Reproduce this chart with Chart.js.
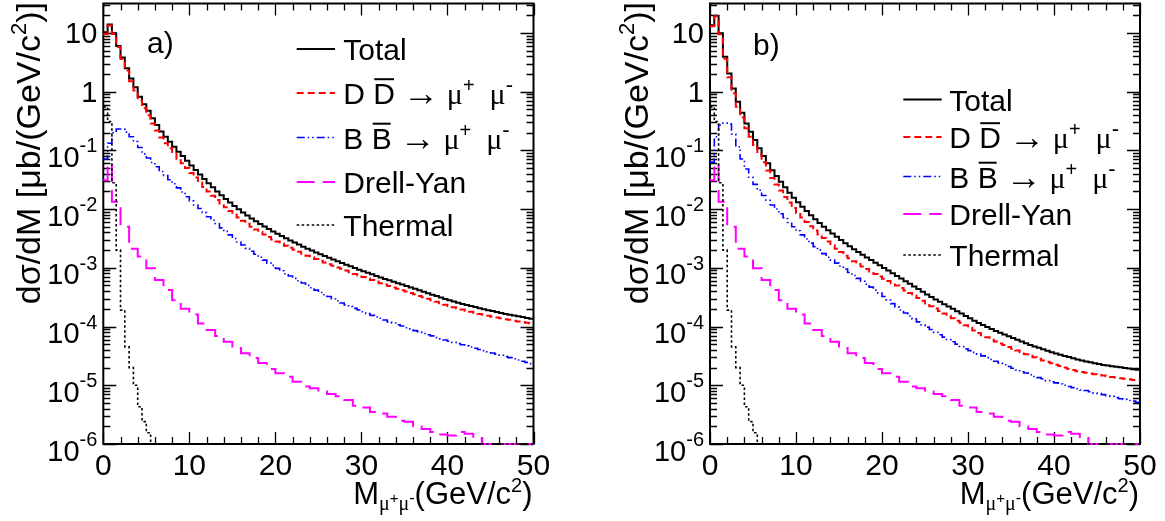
<!DOCTYPE html>
<html><head><meta charset="utf-8">
<script src="https://cdn.jsdelivr.net/npm/chart.js@4/dist/chart.umd.min.js"></script>
<style>
html,body{margin:0;padding:0;background:#fff;}
#wrap{position:relative;width:1165px;height:521px;overflow:hidden;}
.pane{position:absolute;top:0;height:521px;}
</style></head><body>
<div id="wrap">
 <div class="pane" style="left:0;width:582px"><canvas id="ca"></canvas></div>
 <div class="pane" style="left:582px;width:583px"><canvas id="cb"></canvas></div>
</div>
<script>
// ---------------- data ----------------
const massEdges = Array.from({length:101}, (_, i) => i * 0.5); // 0.5 GeV/c2 bins, 0..50
const xTickValues = [0, 10, 20, 30, 40, 50];
const yDecades = [-6, -5, -4, -3, -2, -1, 0, 1];

// panel a)
const totalA = [10.2,13.9,9.8,6.0,3.8,2.5,1.67,1.18,0.82,0.61,
 0.47,0.35,0.27,0.21,0.17,0.14,0.115,0.095,0.080,0.0665,
 0.0553,0.0462,0.0387,0.0326,0.0275,0.0234,0.0200,0.0172,0.0149,0.0129,
 0.0113,9.93e-3,8.77e-3,7.78e-3,6.93e-3,6.21e-3,5.58e-3,5.05e-3,4.57e-3,4.16e-3,
 3.79e-3,3.47e-3,3.18e-3,2.92e-3,2.69e-3,2.48e-3,2.29e-3,2.12e-3,1.97e-3,1.83e-3,
 1.70e-3,1.58e-3,1.48e-3,1.38e-3,1.29e-3,1.21e-3,1.13e-3,1.06e-3,9.91e-4,9.29e-4,
 8.73e-4,8.20e-4,7.73e-4,7.28e-4,6.86e-4,6.47e-4,6.11e-4,5.78e-4,5.47e-4,5.18e-4,
 4.91e-4,4.63e-4,4.38e-4,4.13e-4,3.90e-4,3.68e-4,3.48e-4,3.30e-4,3.12e-4,2.95e-4,
 2.80e-4,2.67e-4,2.55e-4,2.43e-4,2.33e-4,2.23e-4,2.14e-4,2.05e-4,1.97e-4,1.90e-4,
 1.83e-4,1.76e-4,1.70e-4,1.64e-4,1.59e-4,1.54e-4,1.49e-4,1.45e-4,1.40e-4,1.36e-4];
const ddbarA = [9.55,13.4,9.56,5.75,3.57,2.29,1.50,1.04,0.706,0.520,
 0.395,0.287,0.217,0.166,0.132,0.108,0.0878,0.0719,0.0603,0.0501,
 0.0413,0.0344,0.0284,0.0238,0.0200,0.0169,0.0143,0.0124,0.0107,9.23e-3,
 8.10e-3,7.16e-3,6.30e-3,5.62e-3,5.00e-3,4.49e-3,4.05e-3,3.68e-3,3.35e-3,3.04e-3,
 2.80e-3,2.57e-3,2.38e-3,2.19e-3,2.02e-3,1.87e-3,1.73e-3,1.61e-3,1.51e-3,1.41e-3,
 1.32e-3,1.23e-3,1.15e-3,1.08e-3,1.01e-3,9.60e-4,8.95e-4,8.40e-4,7.87e-4,7.38e-4,
 6.95e-4,6.54e-4,6.18e-4,5.83e-4,5.48e-4,5.18e-4,4.91e-4,4.63e-4,4.40e-4,4.16e-4,
 3.95e-4,3.72e-4,3.53e-4,3.32e-4,3.14e-4,2.96e-4,2.79e-4,2.65e-4,2.50e-4,2.36e-4,
 2.24e-4,2.13e-4,2.04e-4,1.94e-4,1.86e-4,1.78e-4,1.71e-4,1.64e-4,1.58e-4,1.53e-4,
 1.47e-4,1.42e-4,1.38e-4,1.33e-4,1.30e-4,1.26e-4,1.22e-4,1.19e-4,1.16e-4,1.13e-4];
const bbbarA = [0.071,0.132,0.20,0.23,0.23,0.204,0.170,0.141,0.112,0.087,
 0.074,0.062,0.0525,0.0437,0.0372,0.0316,0.0269,0.0229,0.0195,0.0162,
 0.0138,0.0117,0.0102,8.7e-3,7.4e-3,6.46e-3,5.62e-3,4.79e-3,4.17e-3,3.63e-3,
 3.16e-3,2.75e-3,2.45e-3,2.14e-3,1.91e-3,1.70e-3,1.51e-3,1.35e-3,1.20e-3,1.10e-3,
 9.77e-4,8.91e-4,7.94e-4,7.24e-4,6.61e-4,6.03e-4,5.50e-4,5.01e-4,4.57e-4,4.17e-4,
 3.80e-4,3.47e-4,3.24e-4,2.95e-4,2.75e-4,2.51e-4,2.34e-4,2.19e-4,2.04e-4,1.91e-4,
 1.78e-4,1.66e-4,1.55e-4,1.45e-4,1.38e-4,1.29e-4,1.20e-4,1.15e-4,1.07e-4,1.02e-4,
 9.55e-5,9.12e-5,8.51e-5,8.13e-5,7.59e-5,7.24e-5,6.92e-5,6.46e-5,6.17e-5,5.89e-5,
 5.62e-5,5.37e-5,5.13e-5,4.90e-5,4.68e-5,4.47e-5,4.27e-5,4.07e-5,3.89e-5,3.72e-5,
 3.55e-5,3.39e-5,3.24e-5,3.09e-5,2.95e-5,2.82e-5,2.69e-5,2.57e-5,2.45e-5,2.34e-5];

// panel b)
const totalB = [13.5,19.6,9.8,3.92,2.04,1.13,0.67,0.436,0.287,0.207,
 0.150,0.108,0.080,0.060,0.046,0.0365,0.0292,0.0234,0.0190,0.0156,
 0.0130,0.0110,9.23e-3,7.85e-3,6.71e-3,5.78e-3,5.01e-3,4.37e-3,3.82e-3,3.37e-3,
 2.96e-3,2.61e-3,2.32e-3,2.07e-3,1.85e-3,1.67e-3,1.50e-3,1.36e-3,1.22e-3,1.10e-3,
 9.93e-4,8.95e-4,8.07e-4,7.28e-4,6.56e-4,5.92e-4,5.33e-4,4.81e-4,4.34e-4,3.91e-4,
 3.52e-4,3.18e-4,2.88e-4,2.63e-4,2.40e-4,2.19e-4,2.00e-4,1.82e-4,1.66e-4,1.51e-4,
 1.38e-4,1.26e-4,1.15e-4,1.06e-4,9.82e-5,9.06e-5,8.41e-5,7.85e-5,7.33e-5,6.84e-5,
 6.38e-5,5.96e-5,5.56e-5,5.19e-5,4.86e-5,4.59e-5,4.34e-5,4.09e-5,3.86e-5,3.65e-5,
 3.47e-5,3.31e-5,3.16e-5,3.02e-5,2.88e-5,2.75e-5,2.64e-5,2.55e-5,2.47e-5,2.38e-5,
 2.30e-5,2.22e-5,2.16e-5,2.11e-5,2.07e-5,2.02e-5,1.97e-5,1.93e-5,1.88e-5,1.84e-5];
const ddbarB = [12.9,19.1,9.49,3.62,1.755,0.935,0.553,0.363,0.238,0.171,
 0.123,0.0861,0.0624,0.0453,0.0339,0.0261,0.0206,0.0160,0.0129,0.0104,
 8.57e-3,7.21e-3,6.03e-3,5.11e-3,4.33e-3,3.69e-3,3.20e-3,2.79e-3,2.42e-3,2.12e-3,
 1.85e-3,1.61e-3,1.45e-3,1.29e-3,1.16e-3,1.05e-3,9.51e-4,8.68e-4,7.83e-4,7.08e-4,
 6.53e-4,5.97e-4,5.48e-4,5.00e-4,4.54e-4,4.11e-4,3.72e-4,3.36e-4,3.05e-4,2.75e-4,
 2.46e-4,2.21e-4,2.02e-4,1.84e-4,1.67e-4,1.52e-4,1.39e-4,1.26e-4,1.16e-4,1.05e-4,
 9.49e-5,8.55e-5,7.76e-5,7.09e-5,6.54e-5,5.98e-5,5.55e-5,5.16e-5,4.84e-5,4.50e-5,
 4.19e-5,3.90e-5,3.66e-5,3.37e-5,3.17e-5,3.00e-5,2.83e-5,2.64e-5,2.52e-5,2.36e-5,
 2.23e-5,2.12e-5,2.00e-5,1.91e-5,1.82e-5,1.73e-5,1.68e-5,1.63e-5,1.58e-5,1.54e-5,
 1.50e-5,1.46e-5,1.42e-5,1.38e-5,1.35e-5,1.32e-5,1.29e-5,1.26e-5,1.23e-5,1.20e-5];
const bbbarB = [0.063,0.17,0.27,0.29,0.28,0.19,0.115,0.071,0.048,0.0347,
 0.0263,0.0209,0.0170,0.0141,0.0117,0.0100,8.3e-3,7.1e-3,5.9e-3,5.0e-3,
 4.27e-3,3.63e-3,3.09e-3,2.63e-3,2.29e-3,2.00e-3,1.74e-3,1.51e-3,1.35e-3,1.20e-3,
 1.07e-3,9.55e-4,8.32e-4,7.41e-4,6.61e-4,5.89e-4,5.25e-4,4.68e-4,4.17e-4,3.72e-4,
 3.24e-4,2.82e-4,2.45e-4,2.14e-4,1.91e-4,1.70e-4,1.51e-4,1.35e-4,1.20e-4,1.07e-4,
 9.77e-5,8.91e-5,7.94e-5,7.24e-5,6.61e-5,6.03e-5,5.50e-5,5.01e-5,4.57e-5,4.17e-5,
 3.89e-5,3.63e-5,3.39e-5,3.16e-5,2.95e-5,2.75e-5,2.57e-5,2.40e-5,2.24e-5,2.09e-5,
 1.95e-5,1.82e-5,1.70e-5,1.62e-5,1.51e-5,1.41e-5,1.35e-5,1.29e-5,1.20e-5,1.15e-5,
 1.10e-5,1.05e-5,1.00e-5,9.55e-6,9.12e-6,8.71e-6,8.32e-6,8.13e-6,7.76e-6,7.41e-6,
 7.24e-6,6.92e-6,6.61e-6,6.46e-6,6.17e-6,5.89e-6,5.75e-6,5.50e-6,5.37e-6,5.13e-6];

// Drell-Yan (same in both panels), variable bins
const dyEdges = [0,0.5,1,2,3,4,5,6,7,8,9,10,11,12,13,14,15,16,17,18,19,20,21,22,23,24,25,
 26,27,28,29,30,31,32,33,34,35,36,37,38,39,40,41,42,43,44,50];
const drellYan = [0.031,0.060,0.0133,5.0e-3,2.1e-3,1.55e-3,9.8e-4,6.2e-4,4.2e-4,2.8e-4,2.0e-4,
 1.6e-4,1.13e-4,8.7e-5,6.9e-5,5.5e-5,4.3e-5,3.5e-5,2.9e-5,2.4e-5,1.9e-5,
 1.6e-5,1.4e-5,1.15e-5,9.5e-6,8.9e-6,7.8e-6,7.1e-6,6.5e-6,5.6e-6,4.5e-6,
 4.2e-6,3.5e-6,3.3e-6,2.9e-6,2.5e-6,2.4e-6,2.0e-6,1.8e-6,1.6e-6,1.45e-6,
 1.4e-6,1.6e-6,1.5e-6,1.25e-6,1e-6];
// Thermal (same in both panels)
const thermalEdges = [0,0.5,1,1.5,2,2.5,3,3.5,4,4.5,5,5.5,50];
const thermal = [0.55,0.31,0.028,2.0e-3,1.9e-4,4.5e-5,2.0e-5,1.0e-5,4.3e-6,2.4e-6,1.55e-6,1e-6];

// ---------------- styles ----------------
const SANS = "'Liberation Sans', Arial, Helvetica, sans-serif";
const SERIF = "'Liberation Serif', 'Times New Roman', serif";
const STYLE = {
  total: {color:'#000000', width:2,   dash:[]},
  dd:    {color:'#ff0000', width:2,   dash:[7,4]},
  bb:    {color:'#0000ff', width:1.6, dash:[8,3,1.5,3,1.5,3]},
  dy:    {color:'#ff00ff', width:2,   dash:[18,8]},
  th:    {color:'#000000', width:1.6, dash:[2.5,2.5]}
};

function steps(edges, vals){
  const pts = vals.map((v,i)=>({x:edges[i], y:v}));
  pts.push({x:edges[vals.length], y:vals[vals.length-1]});
  return pts;
}
function ds(key, edges, vals){
  const s = STYLE[key];
  return {data:steps(edges, vals), borderColor:s.color, borderWidth:s.width, borderDash:s.dash,
    stepped:true, pointRadius:0, fill:false, tension:0, borderJoinStyle:'miter', borderCapStyle:'butt', clip:false};
}

function fontOf(s){ return (s.size||30) + 'px ' + (s.font||SANS); }
function richWidth(ctx, segs){ let w=0; for(const s of segs){ ctx.font=fontOf(s); w+=ctx.measureText(s.t).width; } return w; }
function drawRich(ctx, x, y, segs){
  let cx = x;
  for(const s of segs){
    ctx.font = fontOf(s);
    ctx.fillText(s.t, cx, y + (s.dy||0));
    const w = ctx.measureText(s.t).width;
    if (s.over){ ctx.fillRect(cx+1, y - (s.size||30)*0.86, w-2, 2); }
    cx += w;
  }
}
const decayLabel = (q) => [
  {t:q+' '}, {t:q, over:true}, {t:' '}, {t:'\u2192', font:SERIF, size:36, dy:1}, {t:' \u03bc', font:SERIF},
  {t:'+', size:20, dy:-12}, {t:'  \u03bc', font:SERIF}, {t:'-', size:22, dy:-12}
];
const legendRows = [
  {key:'total', segs:[{t:'Total'}]},
  {key:'dd', segs:decayLabel('D')},
  {key:'bb', segs:decayLabel('B')},
  {key:'dy', segs:[{t:'Drell-Yan'}]},
  {key:'th', segs:[{t:'Thermal'}]}
];

const decor = {
  id:'rootDecor',
  beforeDatasetsDraw(chart){
    const ctx = chart.ctx, a = chart.chartArea, xs = chart.scales.x, ys = chart.scales.y;
    ctx.save();
    ctx.strokeStyle = '#000'; ctx.setLineDash([]);
    ctx.lineWidth = 1.3;
    ctx.beginPath();
    for (const n of yDecades){
      for (let k=1;k<=9;k++){
        const v = k*Math.pow(10,n);
        if (v < ys.min*0.999 || v > ys.max) continue;
        const py = Math.round(ys.getPixelForValue(v))+0.5;
        const len = k===1 ? 13 : 7;
        ctx.moveTo(a.left, py); ctx.lineTo(a.left+len, py);
        ctx.moveTo(a.right, py); ctx.lineTo(a.right-len, py);
      }
    }
    for (let i=0;i<xTickValues.length;i++){
      const t = xTickValues[i];
      const px = Math.round(xs.getPixelForValue(t))+0.5;
      ctx.moveTo(px, a.bottom); ctx.lineTo(px, a.bottom-12);
      ctx.moveTo(px, a.top); ctx.lineTo(px, a.top+12);
      if (i < xTickValues.length-1){
        for (let m=1;m<5;m++){
          const qx = Math.round(xs.getPixelForValue(t + m*(xTickValues[i+1]-t)/5))+0.5;
          ctx.moveTo(qx, a.bottom); ctx.lineTo(qx, a.bottom-7);
          ctx.moveTo(qx, a.top); ctx.lineTo(qx, a.top+7);
        }
      }
    }
    ctx.stroke();
    ctx.lineWidth = 2;
    ctx.strokeRect(a.left, a.top, a.right-a.left, a.bottom-a.top);
    ctx.restore();
  },
  afterDraw(chart){
    const P = chart.options.plugins.rootDecor;
    const ctx = chart.ctx, a = chart.chartArea, xs = chart.scales.x, ys = chart.scales.y;
    ctx.save();
    ctx.fillStyle = '#000'; ctx.strokeStyle = '#000'; ctx.setLineDash([]);
    ctx.textBaseline = 'alphabetic'; ctx.textAlign = 'left';
    // y tick labels
    for (const n of yDecades){
      const py = ys.getPixelForValue(Math.pow(10,n));
      let segs, base;
      if (n===0){ segs=[{t:'1', size:29}]; base = py+10.5; }
      else if (n===1){ segs=[{t:'10', size:29}]; base = py+10.5; }
      else { segs=[{t:'10', size:29}, {t:String(n), size:20, dy:-14.5}]; base = py+16.5; }
      const w = richWidth(ctx, segs);
      drawRich(ctx, a.left-6-w, base, segs);
    }
    // x tick labels
    ctx.font = '30px ' + SANS; ctx.textAlign = 'center';
    for (const t of xTickValues){ ctx.fillText(String(t), xs.getPixelForValue(t), 475); }
    ctx.textAlign = 'left';
    // x title (right aligned to axis end)
    const xt = [{t:'M', size:31}, {t:'\u03bc', size:20, dy:6, font:SERIF}, {t:'+', size:15, dy:-1},
      {t:'\u03bc', size:20, dy:6, font:SERIF}, {t:'-', size:16, dy:-1}, {t:'(GeV/c', size:31}, {t:'2', size:20, dy:-12}, {t:')', size:31}];
    drawRich(ctx, a.right - 1 - richWidth(ctx, xt), 504, xt);
    // y title (rotated, right aligned to the top)
    const yt = [{t:'d\u03c3/dM [\u03bcb/(GeV/c', size:34}, {t:'2', size:22, dy:-14}, {t:')]', size:34}];
    const yw = richWidth(ctx, yt);
    ctx.save(); ctx.translate(P.yTitleX, 2); ctx.rotate(-Math.PI/2);
    drawRich(ctx, -yw, 0, yt);
    ctx.restore();
    // panel tag
    drawRich(ctx, P.tag.x, P.tag.y, [{t:P.tag.t, size:30}]);
    // legend
    const L = P.legend;
    legendRows.forEach((r,i)=>{
      const st = STYLE[r.key], yc = L.ys[i];
      ctx.strokeStyle = st.color; ctx.lineWidth = st.width; ctx.setLineDash(st.dash);
      ctx.beginPath(); ctx.moveTo(L.x0, yc); ctx.lineTo(L.x1, yc); ctx.stroke();
      ctx.setLineDash([]);
      drawRich(ctx, L.tx, yc+11, r.segs);
    });
    ctx.restore();
  }
};

function makePanel(id, P, total, dd, bb){
  return new Chart(document.getElementById(id), {
    type:'line',
    data:{datasets:[
      ds('th', thermalEdges, thermal),
      ds('dy', dyEdges, drellYan),
      ds('bb', massEdges, bb),
      ds('dd', massEdges, dd),
      ds('total', massEdges, total)
    ]},
    options:{
      responsive:true, maintainAspectRatio:false, animation:false, devicePixelRatio:1,
      layout:{padding:{left:0, top:P.top, right:P.right, bottom:0}},
      plugins:{legend:{display:false}, tooltip:{enabled:false}, rootDecor:P},
      scales:{
        x:{type:'linear', min:0, max:50, ticks:{display:false}, grid:{display:false}, border:{display:false},
           afterFit:(s)=>{ s.height = P.bottom; }},
        y:{type:'logarithmic', min:1e-6, max:31.6, ticks:{display:false}, grid:{display:false}, border:{display:false},
           afterFit:(s)=>{ s.width = P.left; }}
      }
    },
    plugins:[decor]
  });
}

makePanel('ca', {left:103.3, right:48.5, top:3.5, bottom:77, yTitleX:40,
  tag:{t:'a)', x:147, y:53},
  legend:{x0:296.7, x1:335, tx:343.3, ys:[49, 93, 137.5, 182, 225]}}, totalA, ddbarA, bbbarA);
makePanel('cb', {left:128, right:25, top:3.5, bottom:77, yTitleX:66,
  tag:{t:'b)', x:171, y:55},
  legend:{x0:321.3, x1:359.7, tx:367.3, ys:[99.5, 137, 176.5, 214, 255]}}, totalB, ddbarB, bbbarB);
</script>
</body></html>
